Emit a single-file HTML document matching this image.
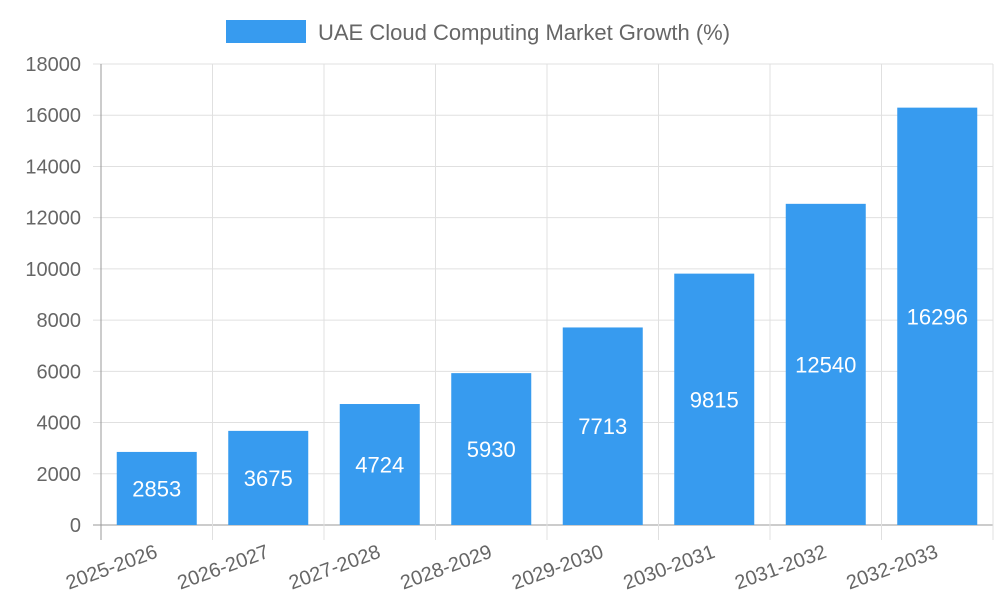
<!DOCTYPE html>
<html><head><meta charset="utf-8"><style>
html,body{margin:0;padding:0;background:#fff;}
svg{display:block;font-family:"Liberation Sans",sans-serif;}
</style></head><body>
<svg id="chart" width="1000" height="600">
<rect x="226" y="20" width="80" height="23" fill="#379bef"/>
<text x="318" y="40" font-size="22" fill="#666">UAE Cloud Computing Market Growth (%)</text>
<g id="grid"></g><g id="bars"></g><g id="labels"></g>
</svg>
<script>
const categories=["2025-2026","2026-2027","2027-2028","2028-2029","2029-2030","2030-2031","2031-2032","2032-2033"];
const values=[2853,3675,4724,5930,7713,9815,12540,16296];
const yTicks=[0,2000,4000,6000,8000,10000,12000,14000,16000,18000];
const NS="http://www.w3.org/2000/svg";
const L=101,R=993,T=64,B=525,yMax=18000;
const band=(R-L)/categories.length;
const y=v=>B-(v/yMax)*(B-T);
const x=i=>L+band*i;
function mk(tag,attrs,parent,txt){const e=document.createElementNS(NS,tag);for(const k in attrs)e.setAttribute(k,attrs[k]);if(txt!==undefined)e.textContent=txt;parent.appendChild(e);return e;}
const g=document.getElementById('grid'),gb=document.getElementById('bars'),gl=document.getElementById('labels');
yTicks.forEach(t=>{
 const ln=mk('line',{x1:L-8,x2:R,y1:y(t),y2:y(t),stroke:t===0?'#999':'#e0e0e0','stroke-width':1},g);
 
 
 const tx=mk('text',{x:L-20,y:y(t)+7,'text-anchor':'end','font-size':20,fill:'#666'},g,String(t));
 
 
});
for(let i=0;i<=categories.length;i++){
 const ln=mk('line',{x1:x(i),x2:x(i),y1:T,y2:B+15,stroke:i===0?'#999':'#e0e0e0','stroke-width':1},g);
 
 
}
categories.forEach((c,i)=>{
 const cx=x(i)+band/2,bw=80,v=values[i];
 const r=mk('rect',{x:cx-bw/2,y:y(v),width:bw,height:B-y(v),fill:'#379bef'},gb);
 
 
 const vt=mk('text',{x:cx,y:(y(v)+B)/2+8,'text-anchor':'middle','font-size':22,fill:'#fff'},gl,String(v));
 
 
 const xt=mk('text',{x:cx+2,y:B+32,'text-anchor':'end','font-size':20,fill:'#666',transform:`rotate(-20 ${cx+2} ${B+32})`},gl,c);
 
 
});
</script>
</body></html>
